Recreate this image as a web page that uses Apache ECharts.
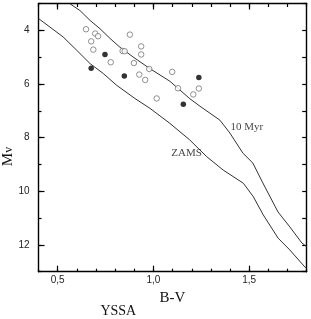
<!DOCTYPE html>
<html>
<head>
<meta charset="utf-8">
<script src="https://cdn.jsdelivr.net/npm/echarts@6/dist/echarts.min.js"></script>
<style>html,body{margin:0;padding:0;background:#fff}#c{width:311px;height:319px}</style>
</head>
<body>
<div id="c"></div>
<script>
// ---- data ----
var myrBV  = [0.564,0.616,0.669,0.721,0.773,0.825,0.893,0.982,1.086,1.190,1.243,1.347,1.399,1.467,1.519,1.571,1.650,1.712,1.775,1.800];
var myrMV  = [3.01,3.26,3.63,3.94,4.30,4.63,4.99,5.43,5.90,6.55,6.83,7.35,7.83,8.58,8.95,9.69,10.77,11.33,11.93,12.07];
var zamsBV = [0.400,0.460,0.529,0.599,0.669,0.738,0.808,0.903,0.982,1.086,1.190,1.278,1.364,1.469,1.521,1.573,1.651,1.712,1.791,1.800];
var zamsMV = [3.56,3.88,4.25,4.74,5.24,5.61,6.05,6.54,6.91,7.47,8.09,8.71,9.21,9.70,10.20,10.88,11.75,12.19,12.83,12.87];
var openBV = [0.648,0.696,0.711,0.675,0.686,0.877,0.936,0.936,0.839,0.850,0.777,0.898,0.978,0.926,0.957,1.098,1.128,1.208,1.237,1.017];
var openMV = [3.96,4.12,4.22,4.41,4.72,4.16,4.60,4.90,4.77,4.78,5.19,5.22,5.44,5.65,5.85,5.55,6.16,6.39,6.17,6.54];
var filledBV = [0.747,0.675,0.848,1.237,1.156];
var filledMV = [4.90,5.41,5.70,5.76,6.76];
var xMinorTicks = [0.4,0.5,0.6,0.7,0.8,0.9,1.0,1.1,1.2,1.3,1.4,1.5,1.6,1.7,1.8];
var xMajorTicks = [0.5,1.0,1.5];
var yMinorTicks = [3,4,5,6,7,8,9,10,11,12,13];
var yMajorTicks = [4,6,8,10,12];
var curveLabels = [{name:'10 Myr', bv:1.488, mv:7.61},{name:'ZAMS', bv:1.173, mv:8.58}];

function pairs(a,b){ return a.map(function(v,i){ return [v,b[i]]; }); }

var chart = echarts.init(document.getElementById('c'), null, {renderer:'canvas'});
var axLine = {show:true, lineStyle:{color:'#000', width:1.4}};
var noLine = {show:false};
function xAx(pos, ticks, len, labels, line){
  return {type:'value', position:pos, min:0.4, max:1.8, gridIndex:0,
    axisLine: line ? axLine : noLine,
    splitLine:{show:false},
    axisTick:{show:true, inside:true, length:len, customValues:ticks, lineStyle:{color:'#000', width:1.2}},
    axisLabel: labels ? {show:true, customValues:xMajorTicks, margin:4, fontSize:10, color:'#222', fontFamily:'Liberation Sans, Arial',
      formatter:function(v){ return v.toFixed(1).replace('.', ','); }} : {show:false}
  };
}
function yAx(pos, ticks, len, labels, line){
  return {type:'value', position:pos, min:3, max:13, inverse:true, gridIndex:0,
    axisLine: line ? axLine : noLine,
    splitLine:{show:false},
    axisTick:{show:true, inside:true, length:len, customValues:ticks, lineStyle:{color:'#000', width:1.2}},
    axisLabel: labels ? {show:true, customValues:yMajorTicks, margin:9, fontSize:10, color:'#222', fontFamily:'Liberation Sans, Arial'} : {show:false}
  };
}

chart.setOption({
  animation:false,
  backgroundColor:'#fff',
  grid:{left:38.5, right:4.3, top:3.5, bottom:47.3},
  xAxis:[
    xAx('bottom', xMinorTicks, 3, true, true),
    xAx('bottom', xMajorTicks, 6, false, false),
    xAx('top', xMinorTicks, 3.5, false, true),
    xAx('top', xMajorTicks, 6, false, false)
  ],
  yAxis:[
    yAx('left', yMinorTicks, 3, true, true),
    yAx('left', yMajorTicks, 6, false, false),
    yAx('right', yMinorTicks, 4.5, false, true)
  ],
  series:[
    {type:'line', data:pairs(myrBV,myrMV), showSymbol:false, lineStyle:{color:'#333', width:1}, z:2},
    {type:'line', data:pairs(zamsBV,zamsMV), showSymbol:false, lineStyle:{color:'#333', width:1}, z:2},
    {type:'scatter', data:pairs(openBV,openMV), symbol:'circle', symbolSize:5.5,
      itemStyle:{color:'#fff', borderColor:'#666', borderWidth:0.9}, z:3},
    {type:'scatter', data:pairs(filledBV,filledMV), symbol:'circle', symbolSize:5.5,
      itemStyle:{color:'#000'}, z:4},
    {type:'scatter', data:curveLabels.map(function(d){ return {value:[d.bv,d.mv], name:d.name}; }),
      symbolSize:0, silent:true,
      label:{show:true, position:'inside', formatter:'{b}', fontFamily:'Liberation Serif, Times New Roman, serif', fontSize:11, color:'#111'}}
  ],
  graphic:[
    {type:'text', x:8.5, y:156.5, rotation:Math.PI/2,
      style:{text:'{m|M}{v|v}', rich:{m:{font:'15px "Liberation Serif", serif', fill:'#111'}, v:{font:'12px "Liberation Serif", serif', fill:'#111'}},
        textAlign:'center', textVerticalAlign:'middle'}},
    {type:'text', x:172.5, y:298,
      style:{text:'B-V', font:'15px "Liberation Serif", serif', fill:'#111', textAlign:'center', textVerticalAlign:'middle'}},
    {type:'text', x:118.3, y:311,
      style:{text:'YSSA', font:'14px "Liberation Serif", serif', fill:'#111', textAlign:'center', textVerticalAlign:'middle'}}
  ]
});
</script>
</body>
</html>
